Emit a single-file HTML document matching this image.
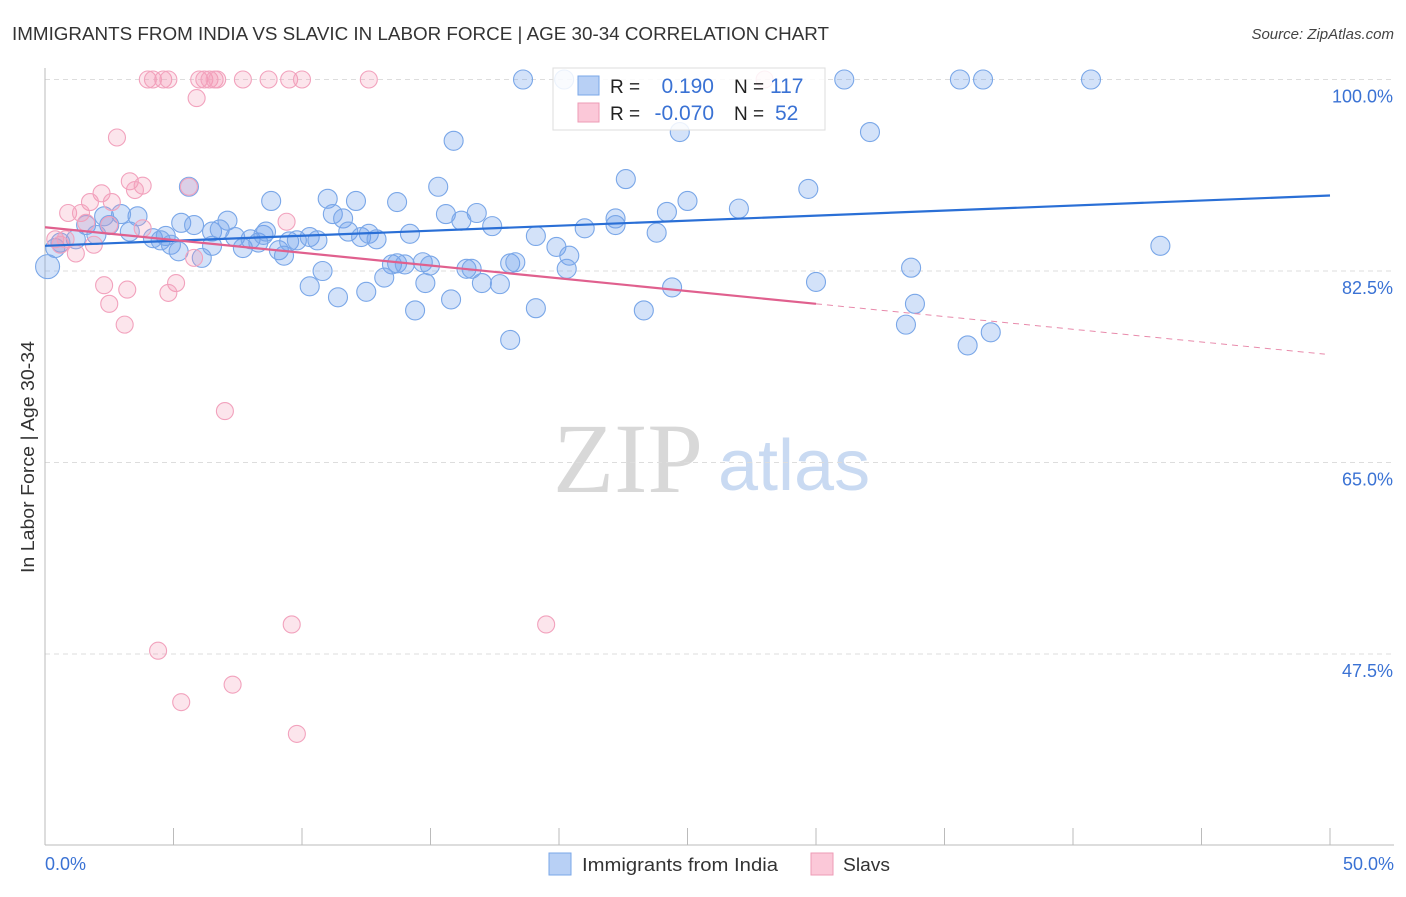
<!DOCTYPE html>
<html><head><meta charset="utf-8"><style>
body{margin:0;background:#fff;font-family:"Liberation Sans",sans-serif}
svg text{font-family:"Liberation Sans",sans-serif}
</style></head><body>
<svg id="chart" width="1406" height="892" xmlns="http://www.w3.org/2000/svg">
<text x="12" y="40" font-size="18" fill="#333" textLength="817" lengthAdjust="spacingAndGlyphs">IMMIGRANTS FROM INDIA VS SLAVIC IN LABOR FORCE | AGE 30-34 CORRELATION CHART</text>
<text x="1394" y="39" font-size="15" fill="#444" text-anchor="end" font-style="italic">Source: ZipAtlas.com</text>
<text x="553" y="492" font-size="100" fill="#d8d8d8" font-family="Liberation Serif" style="font-family:'Liberation Serif',serif">ZIP</text>
<text x="718" y="490" font-size="72" fill="#c9daf2">atlas</text>
<g id="grid"></g>
<g id="axes"></g>
<g id="marks"></g>
<text transform="translate(34,457) rotate(-90)" font-size="18" fill="#333" text-anchor="middle" textLength="232" lengthAdjust="spacingAndGlyphs">In Labor Force | Age 30-34</text>
<g>
<rect x="553" y="68" width="272" height="62" fill="#fff" fill-opacity="0.85" stroke="#ddd"/>
<rect x="578" y="76" width="21" height="19" fill="#b8d0f5" stroke="#7aa7e8"/>
<rect x="578" y="103" width="21" height="19" fill="#fbc8d8" stroke="#ee9bb6"/>
<text x="610" y="93" font-size="19" fill="#222">R =</text>
<text x="714" y="93" font-size="21" fill="#3a72d4" text-anchor="end">0.190</text>
<text x="734" y="93" font-size="19" fill="#222">N =</text>
<text x="770" y="93" font-size="21" fill="#3a72d4">117</text>
<text x="610" y="120" font-size="19" fill="#222">R =</text>
<text x="714" y="120" font-size="21" fill="#3a72d4" text-anchor="end">-0.070</text>
<text x="734" y="120" font-size="19" fill="#222">N =</text>
<text x="775" y="120" font-size="21" fill="#3a72d4">52</text>
</g>
<g>
<rect x="549" y="853" width="22" height="22" fill="#b8d0f5" stroke="#7aa7e8"/>
<text x="582" y="871" font-size="18" fill="#333" textLength="196" lengthAdjust="spacingAndGlyphs">Immigrants from India</text>
<rect x="811" y="853" width="22" height="22" fill="#fbc8d8" stroke="#ee9bb6"/>
<text x="843" y="871" font-size="18" fill="#333" textLength="47" lengthAdjust="spacingAndGlyphs">Slavs</text>
</g>
</svg>
<script>
const xTicks=[0,5,10,15,20,25,30,35,40,45,50];
const yTicks=[100,82.5,65,47.5];
const yTickLabels=["100.0%","82.5%","65.0%","47.5%"];
const indiaX=[18.6,20.2,31.1,35.6,36.5,40.7,15.9,32.1,24.7,22.6,15.3,5.6,29.7,8.8,11.0,12.1,13.7,25.0,27.0,15.6,16.8,11.2,11.6,22.2,22.2,24.2,16.2,17.4,3.6,2.96,2.3,5.3,7.1,5.8,2.5,1.6,3.3,2.0,1.2,0.6,0.4,0.1,4.2,4.7,4.5,4.9,5.2,6.5,6.8,7.4,7.7,8.0,8.3,8.5,8.6,9.1,9.3,9.5,9.8,10.3,10.6,11.8,12.3,12.6,12.9,14.2,6.1,6.5,19.1,19.9,21.0,23.8,20.4,20.3,10.8,10.3,11.4,12.5,13.5,13.7,14.0,13.2,14.7,14.98,14.8,16.4,16.6,18.1,18.3,17.0,17.7,15.8,14.4,19.1,18.1,24.4,23.3,30.0,33.7,33.85,33.5,35.9,36.8,43.4];
const indiaY=[100,100,100,100,100,100,94.4,95.2,95.2,90.9,90.2,90.2,90.0,88.9,89.1,88.9,88.8,88.9,88.2,87.7,87.8,87.7,87.3,87.3,86.7,87.9,87.1,86.6,87.5,87.7,87.5,86.9,87.1,86.7,86.7,86.7,86.1,85.8,85.4,85.1,84.6,82.9,85.5,85.7,85.3,84.9,84.3,86.1,86.3,85.6,84.6,85.4,85.1,85.8,86.1,84.4,83.9,85.2,85.3,85.6,85.3,86.1,85.6,85.9,85.4,85.9,83.7,84.8,85.7,84.7,86.4,86.0,83.9,82.7,82.5,81.1,80.1,80.6,83.1,83.2,83.1,81.9,83.3,83.0,81.4,82.7,82.7,83.2,83.3,81.4,81.3,79.9,78.9,79.1,76.2,81.0,78.9,81.5,82.8,79.5,77.6,75.7,76.9,84.8];
const slavX=[4.0,4.2,4.6,4.8,6.0,6.2,6.4,6.6,6.7,7.7,8.7,9.5,10.0,12.6,28.0,5.9,2.8,3.3,3.8,3.5,2.2,5.6,1.75,2.6,0.9,1.4,1.6,9.4,3.8,2.5,0.4,0.6,0.8,1.9,1.2,5.8,2.3,3.2,2.5,5.1,4.8,3.1,7.0,9.6,19.5,4.4,5.3,7.3,9.8];
const slavY=[100,100,100,100,100,100,100,100,100,100,100,100,100,100,100,98.3,94.7,90.7,90.3,89.9,89.6,90.2,88.8,88.8,87.8,87.8,86.9,87.0,86.4,86.7,85.4,84.9,85.4,84.9,84.1,83.7,81.2,80.8,79.5,81.4,80.5,77.6,69.7,50.2,50.2,47.8,43.1,44.7,40.2];
const indiaTrend=[[0,84.8],[50,89.4]];
const slavTrendSolid=[[0,86.5],[30,79.5]];
const slavTrendDash=[[30,79.5],[49.8,74.9]];
const X=v=>45+v*25.7;
const Y=v=>79.5+(100-v)*10.943;
const NS="http://www.w3.org/2000/svg";
function mk(tag,attrs,parent){const e=document.createElementNS(NS,tag);for(const k in attrs)e.setAttribute(k,attrs[k]);parent.appendChild(e);return e;}
const grid=document.getElementById('grid'),axes=document.getElementById('axes'),marks=document.getElementById('marks');
yTicks.forEach((t,i)=>{
 const l=mk('line',{x1:45,x2:1394,y1:Y(t),y2:Y(t),stroke:'#ddd','stroke-dasharray':'5,4'},grid);
 
 
 const tx=mk('text',{x:1393,y:Y(t)+23,'font-size':18,fill:'#3a72d4','text-anchor':'end'},axes);
 tx.textContent=yTickLabels[i];
 
 
});
const xa=mk('line',{x1:45,x2:1394,y1:845,y2:845,stroke:'#bbb'},axes);


const ya=mk('line',{x1:45,x2:45,y1:68,y2:845,stroke:'#bbb'},axes);


xTicks.forEach(t=>{
 const l=mk('line',{x1:X(t),x2:X(t),y1:828,y2:845,stroke:'#bbb'},axes);
 
 
});
[[0,"0.0%","start"],[50,"50.0%","end"]].forEach(([v,s,a])=>{
 const tx=mk('text',{x:X(v)+(a=="end"?64:0),y:870,'font-size':18,fill:'#3a72d4','text-anchor':a},axes);
 tx.textContent=s;
 
 
});
indiaX.forEach((v,i)=>{
 const c=mk('circle',{cx:X(v),cy:Y(indiaY[i]),r:(i==41?12:9.5),fill:'rgba(110,160,235,0.3)',stroke:'#7aa7e8','stroke-width':1.1},marks);
 
 
});
slavX.forEach((v,i)=>{
 const c=mk('circle',{cx:X(v),cy:Y(slavY[i]),r:8.5,fill:'rgba(245,150,180,0.25)',stroke:'#f2a2bd','stroke-width':1.1},marks);
 
 
});
function line(p,st,name,dash){const l=mk('line',{x1:X(p[0][0]),y1:Y(p[0][1]),x2:X(p[1][0]),y2:Y(p[1][1]),stroke:st,'stroke-width':dash?1:2.2},marks);if(dash)l.setAttribute('stroke-dasharray','6,5');}
line(indiaTrend,'#2a6fd6','india-trend-line');
line(slavTrendSolid,'#e0608e','slav-trend-line');
line(slavTrendDash,'#e88aab','slav-trend-extension',true);
</script>
</body></html>
